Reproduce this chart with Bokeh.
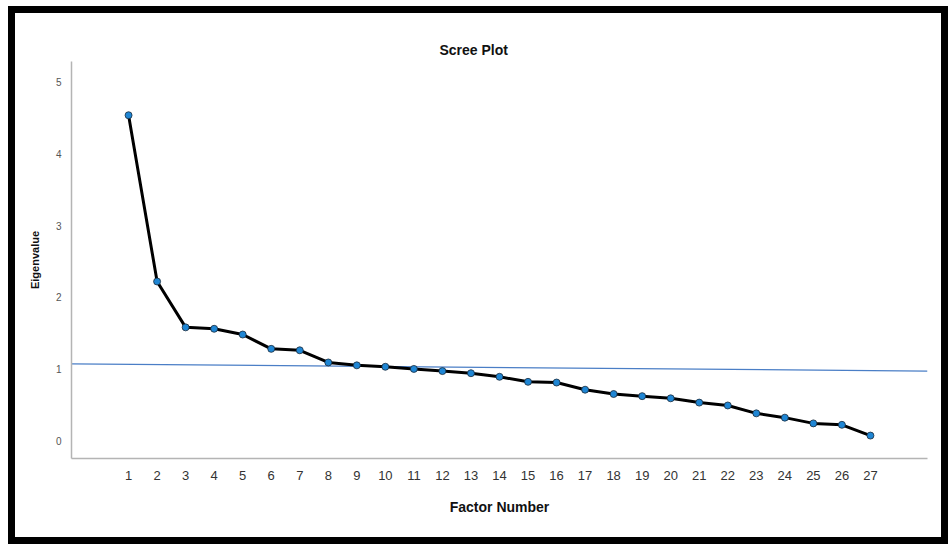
from bokeh.plotting import figure
from bokeh.models import FixedTicker, Title
from bokeh.embed import file_html
from bokeh.resources import INLINE

# ---- data ----
factor_number = list(range(1, 28))
eigenvalue = [4.54, 2.22, 1.58, 1.56, 1.48, 1.28, 1.26, 1.09, 1.05, 1.03,
              1.00, 0.97, 0.94, 0.89, 0.82, 0.81, 0.71, 0.65, 0.62, 0.59,
              0.53, 0.49, 0.38, 0.32, 0.24, 0.22, 0.07]
x_ticks = list(range(1, 28))
y_ticks = [0, 1, 2, 3, 4, 5]
ref_line_x = [-1.0, 29.0]
ref_line_y = [1.07, 0.97]

FONT = "Liberation Sans"

p = figure(width=940, height=538, output_backend="svg", toolbar_location=None,
           x_range=(-1.0, 29.0), y_range=(-0.25, 5.29),
           min_border_left=56, min_border_right=28, min_border_top=48,
           min_border_bottom=93)
p.styles = {"border": "7px solid black", "box-sizing": "border-box",
            "margin-left": "8px", "margin-top": "6px"}

p.title = Title(text="Scree Plot", align="left", text_font=FONT,
                text_font_size="14px", text_font_style="bold",
                text_color="#111111", offset=368, standoff=8)

p.outline_line_color = None
p.xgrid.grid_line_color = None
p.ygrid.grid_line_color = None
p.background_fill_color = "white"
p.border_fill_color = "white"

# reference line
p.line(ref_line_x, ref_line_y, line_color="#4a7ec6", line_width=1.2)

# scree line and points
p.line(factor_number, eigenvalue, line_color="black", line_width=3)
p.scatter(factor_number, eigenvalue, size=7, marker="circle",
          fill_color="#1f86d4", line_color="#1b2b3b", line_width=0.8)

for ax in (p.xaxis[0], p.yaxis[0]):
    ax.axis_line_color = "#b4b4b4"
    ax.axis_line_width = 1.5
    ax.major_tick_line_color = None
    ax.minor_tick_line_color = None
    ax.major_label_text_font = FONT
    ax.axis_label_text_font = FONT
    ax.axis_label_text_font_style = "bold"
    ax.axis_label_text_color = "#111111"

p.xaxis[0].ticker = FixedTicker(ticks=x_ticks)
p.xaxis[0].axis_label = "Factor Number"
p.xaxis[0].axis_label_text_font_size = "14px"
p.xaxis[0].major_label_text_font_size = "13px"
p.xaxis[0].major_label_text_color = "#333333"
p.xaxis[0].major_label_standoff = 6
p.xaxis[0].axis_label_standoff = 16

p.yaxis[0].ticker = FixedTicker(ticks=y_ticks)
p.yaxis[0].axis_label = "Eigenvalue"
p.yaxis[0].axis_label_text_font_size = "11px"
p.yaxis[0].major_label_text_font_size = "10px"
p.yaxis[0].major_label_text_color = "#555555"
p.yaxis[0].major_label_standoff = 4
p.yaxis[0].axis_label_standoff = 12

open("out.html", "w").write(file_html(p, INLINE))
